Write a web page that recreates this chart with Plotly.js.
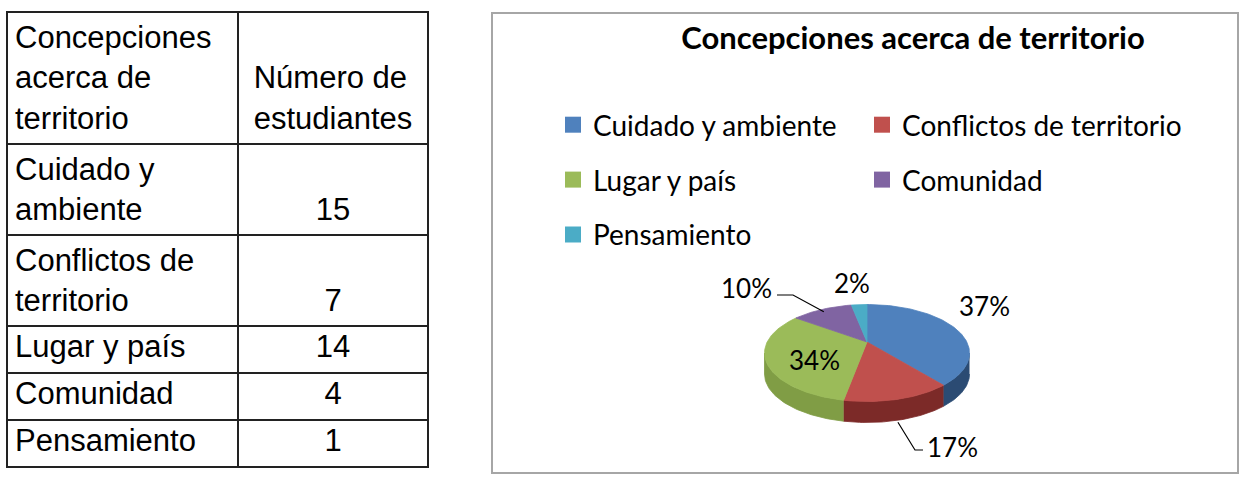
<!DOCTYPE html>
<html><head><meta charset="utf-8">
<script src="https://cdn.plot.ly/plotly-3.0.1.min.js"></script>
<style>html,body{margin:0;padding:0;background:#fff;} #chart{width:1248px;height:485px;}</style>
</head><body><div id="chart"></div>
<script>
// ---------------- data ----------------
const categories = ['Cuidado y ambiente', 'Conflictos de territorio', 'Lugar y país', 'Comunidad', 'Pensamiento'];
const students = [15, 7, 14, 4, 1];
const tableLabels = ['Cuidado y<br>ambiente', 'Conflictos de<br>territorio', 'Lugar y país', 'Comunidad', 'Pensamiento'];
const tableHeaders = ['Concepciones<br>acerca de<br>territorio', '\u00A0<br>Número de<br>estudiantes'];
const chartTitle = 'Concepciones acerca de territorio';

// ---------------- styles / layout ----------------
const W = 1248, H = 485;
const topColors = ['#4f81bd', '#c0504d', '#9bbb59', '#8064a2', '#4bacc6'];
const sideColors = ['#2b4b73', '#7c2a28', '#809d45', '#5a4578', '#2f7f94'];
const pie = {cx: 867, cy: 353, rx: 102.5, ry: 48.5, depth: 21, apexDy: -11};
const labelFont = {family: 'Lato, Carlito, sans-serif', size: 26, color: '#000'};
// label offsets relative to the pie centre (Excel "best fit" placement)
const labelPlace = [
  {dx: 117, dy: -47},
  {dx: 85, dy: 94, leader: {end: [-29, 3], elbow: [-8, 0], drop: 23, k: 1}},
  {dx: -53, dy: 7},
  {dx: -121, dy: -65, leader: {end: [31, 7], elbow: [16, 0], drop: 0, k: 0.95}},
  {dx: -15, dy: -70}
];

// ---------------- geometry ----------------
const total = students.reduce((a, b) => a + b, 0);
let acc = 0;
const slices = students.map(v => { const a0 = acc / total * 360; acc += v; return {a0, a1: acc / total * 360}; });
function rim(deg, drop, k) {
  k = k == null ? 1 : k;
  const t = deg * Math.PI / 180;
  return [pie.cx + k * pie.rx * Math.sin(t), pie.cy - k * pie.ry * Math.cos(t) + (drop || 0)];
}
function arc(a0, a1, drop) {
  const n = Math.max(2, Math.ceil((a1 - a0) / 1.5));
  const pts = [];
  for (let k = 0; k <= n; k++) pts.push(rim(a0 + (a1 - a0) * k / n, drop));
  return pts;
}
function poly(pts, fill, line) {
  return {type: 'scatter', mode: 'lines', x: pts.map(p => p[0]), y: pts.map(p => p[1]),
    fill: 'toself', fillcolor: fill, line: {color: line || fill, width: 0.8},
    hoverinfo: 'skip', showlegend: false, xaxis: 'x', yaxis: 'y'};
}

const traces = [];
// table
const countCells = students.map((v, i) => tableLabels[i].indexOf('<br>') >= 0 ? '\u00A0<br>' + v : String(v));
const tableFont = {family: 'Liberation Sans, Arial, sans-serif', size: 31, color: '#000'};
traces.push({
  type: 'table',
  domain: {x: [7 / W, 428 / W], y: [0, 1 - 12 / H]},
  columnwidth: [231, 190],
  header: {values: tableHeaders, align: ['left', 'center'], height: 47,
    line: {color: '#222', width: 2}, fill: {color: '#fff'}, font: tableFont},
  cells: {values: [tableLabels, countCells], align: ['left', 'center'], height: 47,
    line: {color: '#222', width: 2}, fill: {color: '#fff'}, font: tableFont}
});

// side walls (front half of the pie, 90..270 degrees)
slices.forEach((s, i) => {
  const a = Math.max(s.a0, 90), b = Math.min(s.a1, 270);
  if (b > a) {
    const top = arc(a, b, 0), bot = arc(a, b, pie.depth).reverse();
    traces.push(poly(top.concat(bot), sideColors[i]));
  }
});
// top surfaces
const apex = [pie.cx, pie.cy + pie.apexDy];
slices.forEach((s, i) => {
  traces.push(poly([apex].concat(arc(s.a0, s.a1, 0), [apex]), topColors[i]));
});
// labels and leader lines
const annotations = [];
slices.forEach((s, i) => {
  const lp = labelPlace[i];
  const lx = pie.cx + lp.dx, ly = pie.cy + lp.dy;
  const pct = Math.round(students[i] / total * 100) + '%';
  annotations.push({x: lx, y: ly, xref: 'x', yref: 'y', text: pct, showarrow: false,
    font: labelFont, xanchor: 'center', yanchor: 'middle'});
  if (lp.leader) {
    const L = lp.leader;
    const e = [lx + L.end[0], ly + L.end[1]];
    const el = [e[0] + L.elbow[0], e[1] + L.elbow[1]];
    const r = rim((s.a0 + s.a1) / 2, L.drop, L.k);
    traces.push({type: 'scatter', mode: 'lines', x: [e[0], el[0], r[0]], y: [e[1], el[1], r[1]],
      line: {color: '#000', width: 1.2}, hoverinfo: 'skip', showlegend: false});
  }
});
// legend entries
categories.forEach((c, i) => {
  traces.push({type: 'scatter', mode: 'markers', x: [null], y: [null], name: c,
    marker: {symbol: 'square', size: 16, color: topColors[i]},
    legend: (i % 2 === 0) ? 'legend' : 'legend2', legendgroup: 'g' + i, hoverinfo: 'skip'});
});

const legendFont = {family: 'Lato, Carlito, sans-serif', size: 28, color: '#000'};
const layout = {
  width: W, height: H,
  margin: {l: 0, r: 0, t: 0, b: 0},
  paper_bgcolor: '#fff', plot_bgcolor: 'rgba(0,0,0,0)',
  title: {text: chartTitle, font: {family: 'Lato, Carlito, sans-serif', size: 31, weight: 700, color: '#000'},
    x: 913 / W, xanchor: 'center', y: 1 - 38 / H, yanchor: 'middle'},
  xaxis: {range: [0, W], autorange: false, visible: false, fixedrange: true, domain: [0, 1]},
  yaxis: {range: [H, 0], autorange: false, visible: false, fixedrange: true, domain: [0, 1]},
  showlegend: true,
  legend: {x: 553 / W, xanchor: 'left', y: 1 - 100 / H, yanchor: 'top', orientation: 'v',
    tracegroupgap: 15.5, font: legendFont, bgcolor: 'rgba(0,0,0,0)', borderwidth: 0},
  legend2: {x: 862 / W, xanchor: 'left', y: 1 - 100 / H, yanchor: 'top', orientation: 'v',
    tracegroupgap: 15.5, font: legendFont, bgcolor: 'rgba(0,0,0,0)', borderwidth: 0},
  shapes: [{type: 'rect', xref: 'x', yref: 'y', x0: 492, x1: 1238, y0: 13, y1: 473,
    line: {color: '#a6a6a6', width: 2}, layer: 'below'}],
  annotations: annotations
};
Plotly.newPlot('chart', traces, layout, {staticPlot: true, displayModeBar: false});
</script>
</body></html>
